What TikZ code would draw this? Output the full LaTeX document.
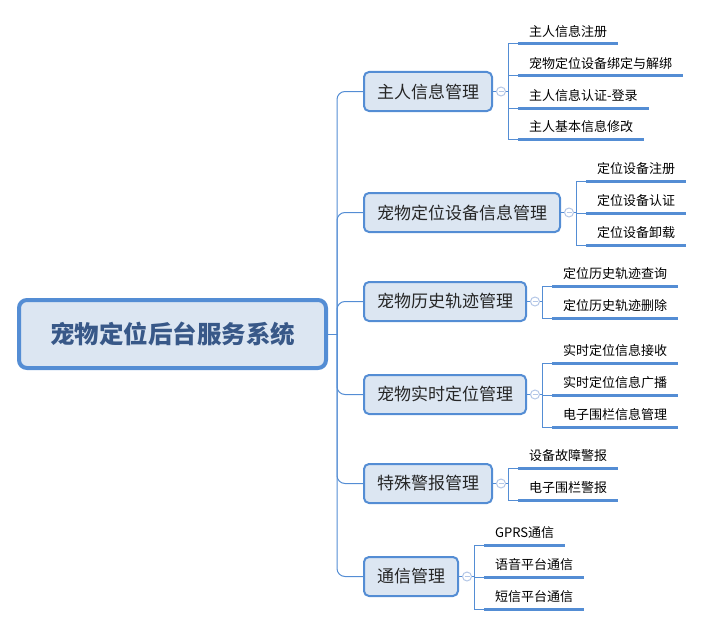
\documentclass[tikz,border=0pt]{standalone}
\usepackage{fontspec}
\setmainfont{Noto Sans CJK SC}
\usepackage{tikz}
\usetikzlibrary{positioning}

\definecolor{lineblue}{RGB}{84,141,212}
\definecolor{boxfill}{RGB}{220,230,242}
\definecolor{roottext}{RGB}{56,88,136}
\definecolor{topictext}{RGB}{38,38,38}
\definecolor{foldblue}{RGB}{180,199,231}

\tikzset{
root/.style={draw=lineblue,line width=4pt,fill=boxfill,rounded corners=8pt,minimum width=307pt,minimum height=68pt,text=roottext,font=\fontsize{24.5}{30}\selectfont\bfseries},
topic/.style={draw=lineblue,line width=2pt,fill=boxfill,rounded corners=5pt,anchor=west,inner xsep=13pt,minimum height=39pt,text=topictext,font=\fontsize{17}{20}\selectfont},
fold/.style={circle,draw=foldblue,fill=white,line width=1pt,minimum size=9pt,inner sep=0pt,path picture={\draw[foldblue,line width=1pt] ([xshift=-2.5pt]path picture bounding box.center) -- ([xshift=2.5pt]path picture bounding box.center);}},
leaf/.style={anchor=south west,inner xsep=11pt,inner ysep=7pt,text height=10pt,text depth=0pt,font=\fontsize{13}{15}\selectfont},
link/.style={draw=lineblue,line width=1pt},
bar/.style={draw=lineblue,line width=3pt}
}

\begin{document}
\begin{tikzpicture}[x=1pt,y=1pt]
\useasboundingbox (0,0) rectangle (704,-626);
\node[root] (sys) at (172.5,-334) {宠物定位后台服务系统};
\node[topic] (owner) at (363,-91.5) {主人信息管理};
\node[topic] (device) at (363,-212.5) {宠物定位设备信息管理};
\node[topic] (history) at (363,-301.5) {宠物历史轨迹管理};
\node[topic] (realtime) at (363,-394.5) {宠物实时定位管理};
\node[topic] (alarm) at (363,-483.5) {特殊警报管理};
\node[topic] (comm) at (363,-576.5) {通信管理};

\node[leaf] (owner-1) at (518,-44) {主人信息注册};
\node[leaf] (owner-2) at (518,-76) {宠物定位设备绑定与解绑};
\node[leaf] (owner-3) at (518,-108) {主人信息认证-登录};
\node[leaf] (owner-4) at (518,-139) {主人基本信息修改};
\node[leaf] (device-1) at (586,-181) {定位设备注册};
\node[leaf] (device-2) at (586,-213) {定位设备认证};
\node[leaf] (device-3) at (586,-245) {定位设备卸载};
\node[leaf] (history-1) at (552,-286) {定位历史轨迹查询};
\node[leaf] (history-2) at (552,-318) {定位历史轨迹删除};
\node[leaf] (realtime-1) at (552,-363) {实时定位信息接收};
\node[leaf] (realtime-2) at (552,-395) {实时定位信息广播};
\node[leaf] (realtime-3) at (552,-427) {电子围栏信息管理};
\node[leaf] (alarm-1) at (518,-468) {设备故障警报};
\node[leaf] (alarm-2) at (518,-500) {电子围栏警报};
\node[leaf] (comm-1) at (484,-545) {GPRS通信};
\node[leaf] (comm-2) at (484,-577) {语音平台通信};
\node[leaf] (comm-3) at (484,-609) {短信平台通信};

\coordinate (trunk) at (337,-334);
\draw[link] (sys) -- (trunk);
\foreach \t/\n in {owner/4,device/3,history/2,realtime/3,alarm/2,comm/3} {
  \draw[link,rounded corners=8pt] (trunk) |- (\t.west);
  \node[fold,right=3pt of \t] (\t-f) {};
  \coordinate[right=2pt of \t-f] (\t-j);
  \draw[link] (\t) -- (\t-f);
  \draw[link] (\t-f) -- (\t-j);
  \foreach \i in {1,...,\n} {
    \draw[link] (\t-j) |- (\t-\i.south west);
    \draw[bar] (\t-\i.south west) -- (\t-\i.south east);
  }
}
\end{tikzpicture}
\end{document}
